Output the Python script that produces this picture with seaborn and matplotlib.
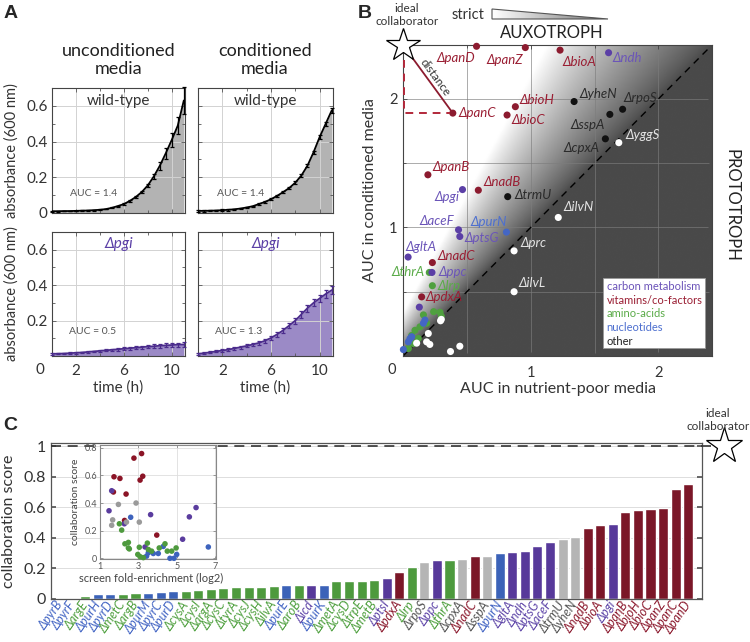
import numpy as np
import pandas as pd
import matplotlib
matplotlib.use("Agg")
import matplotlib.pyplot as plt
import seaborn as sns
from matplotlib.patches import Polygon, Rectangle

sns.set_theme(style="white")
plt.rcParams['font.family'] = ['Lato', 'DejaVu Sans']
plt.rcParams['axes.unicode_minus'] = False

# ---------------------------------------------------------------- data: panel A
time_h = [0.0, 0.5, 1.0, 1.5, 2.0, 2.5, 3.0, 3.5, 4.0, 4.5, 5.0, 5.5,
          6.0, 6.5, 7.0, 7.5, 8.0, 8.5, 9.0, 9.5, 10.0, 10.5, 11.0]
wt_uncond = [0.010, 0.010, 0.011, 0.011, 0.012, 0.013, 0.014, 0.016, 0.018, 0.022, 0.029, 0.039,
             0.050, 0.068, 0.090, 0.118, 0.155, 0.205, 0.265, 0.335, 0.410, 0.490, 0.630]
wt_uncond_err = [0.002, 0.002, 0.002, 0.002, 0.002, 0.002, 0.002, 0.002, 0.002, 0.002, 0.003, 0.003,
                 0.004, 0.004, 0.005, 0.007, 0.010, 0.014, 0.022, 0.030, 0.040, 0.045, 0.075]
wt_cond = [0.012, 0.012, 0.013, 0.014, 0.016, 0.018, 0.021, 0.025, 0.031, 0.038, 0.050, 0.062,
           0.077, 0.096, 0.117, 0.140, 0.170, 0.210, 0.265, 0.340, 0.425, 0.500, 0.575]
wt_cond_err = [0.004, 0.004, 0.004, 0.004, 0.004, 0.004, 0.004, 0.004, 0.004, 0.004, 0.004, 0.005,
               0.005, 0.005, 0.006, 0.006, 0.007, 0.008, 0.009, 0.010, 0.011, 0.012, 0.014]
pgi_uncond = [0.012, 0.013, 0.014, 0.016, 0.018, 0.020, 0.023, 0.026, 0.029, 0.032, 0.035, 0.038,
              0.041, 0.044, 0.047, 0.050, 0.053, 0.055, 0.058, 0.060, 0.062, 0.064, 0.065]
pgi_uncond_err = [0.004, 0.004, 0.004, 0.004, 0.004, 0.005, 0.005, 0.005, 0.006, 0.006, 0.007, 0.007,
                  0.008, 0.008, 0.009, 0.009, 0.010, 0.010, 0.011, 0.011, 0.012, 0.012, 0.013]
pgi_cond = [0.012, 0.016, 0.021, 0.026, 0.031, 0.036, 0.043, 0.050, 0.057, 0.065, 0.074, 0.086,
            0.102, 0.122, 0.145, 0.172, 0.200, 0.235, 0.270, 0.300, 0.325, 0.350, 0.372]
pgi_cond_err = [0.004, 0.005, 0.005, 0.006, 0.006, 0.007, 0.007, 0.008, 0.009, 0.010, 0.011, 0.012,
                0.013, 0.014, 0.015, 0.016, 0.017, 0.018, 0.019, 0.020, 0.021, 0.022, 0.024]
auc_text = ["AUC = 1.4", "AUC = 1.4", "AUC = 0.5", "AUC = 1.3"]
a_col_titles = ["unconditioned\nmedia", "conditioned\nmedia"]
a_row_titles = ["wild-type", "\u0394pgi"]

# ---------------------------------------------------------------- data: panel B
b_genes = ['panD', 'panZ', 'bioA', 'ndh', 'panC', 'bioH', 'bioC', 'yheN', 'rpoS', 'sspA',
           'cpxA', 'yggS', 'panB', 'pgi', 'nadB', 'trmU', 'ilvN', 'aceF', 'ptsG', 'purN',
           'prc', 'gltA', 'nadC', 'thrA', 'ppc', 'lrp', 'ilvL', 'pdxA']
b_x = [0.576, 0.958, 1.23, 1.61, 0.39, 0.88, 0.815, 1.34, 1.72, 1.62,
       1.585, 1.69, 0.195, 0.466, 0.59, 0.82, 1.216, 0.435, 0.445, 0.81,
       0.87, 0.04, 0.23, 0.206, 0.227, 0.23, 0.87, 0.146]
b_y = [2.41, 2.40, 2.38, 2.36, 1.89, 1.94, 1.875, 1.98, 1.92, 1.88,
       1.69, 1.66, 1.41, 1.295, 1.29, 1.24, 1.078, 0.982, 0.93, 0.964,
       0.818, 0.77, 0.727, 0.65, 0.65, 0.547, 0.50, 0.46]
b_cat = ['vitamins', 'vitamins', 'vitamins', 'carbon', 'vitamins', 'vitamins', 'vitamins', 'other', 'other', 'other',
         'other', 'other', 'vitamins', 'carbon', 'vitamins', 'other', 'other', 'carbon', 'carbon', 'nucleotides',
         'other', 'carbon', 'vitamins', 'amino', 'carbon', 'amino', 'other', 'vitamins']
# unlabelled points near the origin
u_x = [0.128, 0.24, 0.29, 0.30, 0.16, 0.185, 0.133, 0.094, 0.068, 0.12, 0.055, 0.08, 0.042,
       0.16, 0.172, 0.068, 0.042, 0.055, 0.003,
       0.294, 0.30, 0.198, 0.107, 0.185, 0.21, 0.445, 0.372]
u_y = [0.38, 0.345, 0.34, 0.31, 0.32, 0.255, 0.227, 0.20, 0.16, 0.137, 0.12, 0.097, 0.058,
       0.255, 0.28, 0.15, 0.11, 0.135, 0.05,
       0.274, 0.285, 0.175, 0.10, 0.11, 0.09, 0.076, 0.035]
u_cat = ['carbon', 'amino', 'amino', 'amino', 'amino', 'amino', 'amino', 'amino', 'amino', 'amino',
         'amino', 'amino', 'amino',
         'nucleotides', 'nucleotides', 'nucleotides', 'nucleotides', 'nucleotides', 'nucleotides',
         'other', 'other', 'other', 'other', 'other', 'other', 'other', 'other']
legend_names = ['carbon metabolism', 'vitamins/co-factors', 'amino-acids', 'nucleotides', 'other']

# ---------------------------------------------------------------- data: panel C
c_genes = ['pyrB', 'pyrF', 'argE', 'purH', 'pyrD', 'metC', 'argB', 'purM', 'pyrC', 'purD',
           'cysA', 'cysI', 'argA', 'cysC', 'tyrA', 'cysJ', 'cysH', 'ilvA', 'purE', 'aroB',
           'icd', 'purK', 'metA', 'cysD', 'trpE', 'metB', 'ptsI', 'pdxA', 'lrp', 'rpoS',
           'ppc', 'thrA', 'cpxA', 'nadC', 'sspA', 'purN', 'gltA', 'ndh', 'ptsG', 'aceF',
           'trmU', 'yheN', 'nadB', 'bioA', 'pgi', 'panB', 'bioH', 'bioC', 'panZ', 'panC', 'panD']
c_scores = [0.002, 0.003, 0.017, 0.030, 0.033, 0.035, 0.037, 0.040, 0.044, 0.050,
            0.055, 0.059, 0.068, 0.074, 0.079, 0.081, 0.081, 0.085, 0.090, 0.090,
            0.090, 0.094, 0.116, 0.118, 0.118, 0.125, 0.140, 0.175, 0.208, 0.245,
            0.252, 0.252, 0.263, 0.280, 0.280, 0.300, 0.306, 0.317, 0.348, 0.370,
            0.392, 0.403, 0.466, 0.481, 0.490, 0.569, 0.580, 0.586, 0.595, 0.722, 0.755]
c_cat = ['nucleotides', 'nucleotides', 'amino', 'nucleotides', 'nucleotides', 'amino', 'amino', 'nucleotides', 'nucleotides', 'nucleotides',
         'amino', 'amino', 'amino', 'amino', 'amino', 'amino', 'amino', 'amino', 'nucleotides', 'amino',
         'carbon', 'nucleotides', 'amino', 'amino', 'amino', 'amino', 'carbon', 'vitamins', 'amino', 'other',
         'carbon', 'amino', 'other', 'vitamins', 'other', 'nucleotides', 'carbon', 'carbon', 'carbon', 'carbon',
         'other', 'other', 'vitamins', 'vitamins', 'carbon', 'vitamins', 'vitamins', 'vitamins', 'vitamins', 'vitamins', 'vitamins']
# inset: collaboration score vs screen fold-enrichment
in_x = [2.77, 3.17, 1.73, 2.04, 3.23, 3.09, 1.70, 2.36, 2.28, 3.96,
        1.61, 1.47, 2.27, 3.64, 6.01, 5.66, 5.31, 3.35,
        1.96, 2.88, 1.66, 1.61, 2.38, 3.05,
        2.60, 4.30, 3.52, 3.78, 4.04, 3.43, 4.65, 4.86, 5.00, 6.65,
        2.01, 2.13, 2.30, 2.48, 2.48, 2.53, 2.97, 3.05, 3.09, 3.47, 3.52, 3.69, 4.09, 4.39, 4.51, 4.74, 4.97, 3.26]
in_y = [0.725, 0.758, 0.59, 0.578, 0.594, 0.566, 0.48, 0.465, 0.274, 0.168,
        0.489, 0.344, 0.25, 0.316, 0.367, 0.30, 0.138, 0.082,
        0.39, 0.40, 0.278, 0.239, 0.262, 0.262,
        0.297, 0.086, 0.04, 0.035, 0.035, 0.016, 0.0, 0.0, 0.028, 0.082,
        0.25, 0.204, 0.105, 0.115, 0.075, 0.068, 0.028, 0.08, 0.012, 0.11, 0.064, 0.052, 0.075, 0.105, 0.052, 0.052, 0.075, 0.005]
in_cat = ['vitamins', 'vitamins', 'vitamins', 'vitamins', 'vitamins', 'vitamins', 'vitamins', 'vitamins', 'vitamins', 'vitamins',
          'carbon', 'carbon', 'carbon', 'carbon', 'carbon', 'carbon', 'carbon', 'carbon',
          'other', 'other', 'other', 'other', 'other', 'other',
          'nucleotides', 'nucleotides', 'nucleotides', 'nucleotides', 'nucleotides', 'nucleotides', 'nucleotides', 'nucleotides', 'nucleotides', 'nucleotides',
          'amino', 'amino', 'amino', 'amino', 'amino', 'amino', 'amino', 'amino', 'amino', 'amino', 'amino', 'amino', 'amino', 'amino', 'amino', 'amino', 'amino', 'amino']

# ---------------------------------------------------------------- styles
PT_COL = {'carbon': '#5b3fa6', 'vitamins': '#8c1b2f', 'amino': '#4fa03f',
          'nucleotides': '#4466c4', 'other_dark': '#111111', 'other_light': '#ffffff'}
B_LAB_COL = {'carbon': '#6b55b8', 'vitamins': '#9a1e33', 'amino': '#5aab48',
             'nucleotides': '#4d6fcf', 'other_dark': '#2a2a2a', 'other_light': '#e4e4e4'}
BAR_COL = {'carbon': '#57399a', 'vitamins': '#7b1728', 'amino': '#4d9a3d',
           'nucleotides': '#3b62b8', 'other': '#b5b5b5'}
C_LAB_COL = {'carbon': '#5f46a8', 'vitamins': '#8c1b2f', 'amino': '#4fa03f',
             'nucleotides': '#4466c4', 'other': '#555555'}
IN_COL = {'carbon': '#5a3c9e', 'vitamins': '#8b1426', 'amino': '#4e9a3e',
          'nucleotides': '#3d63bd', 'other': '#9a9a9a'}
LEG_COL = ['#6a52b8', '#9a1e33', '#5aab48', '#4d6fcf', '#222222']
INK = '#333333'

# label placement for panel B: (dx px, dy px, ha, va)
B_LAYOUT = {
    'panD': (-1, -6, 'right', 'top'), 'panZ': (-2, -6, 'right', 'top'),
    'bioA': (2, -6, 'left', 'top'), 'ndh': (4, 1, 'left', 'top'),
    'panC': (6, 0, 'left', 'center'), 'bioH': (4, 1, 'left', 'bottom'),
    'bioC': (4, 1, 'left', 'top'), 'yheN': (5, 2, 'left', 'bottom'),
    'rpoS': (1, 5, 'left', 'bottom'), 'sspA': (-5, -5, 'right', 'top'),
    'cpxA': (-6, -3, 'right', 'top'), 'yggS': (7, 2, 'left', 'bottom'),
    'panB': (5, 2, 'left', 'bottom'), 'pgi': (-3, -1, 'right', 'top'),
    'nadB': (5, 2, 'left', 'bottom'), 'trmU': (7, 2, 'left', 'center'),
    'ilvN': (5, 4, 'left', 'bottom'), 'aceF': (-4, 3, 'right', 'bottom'),
    'ptsG': (5, -2, 'left', 'center'), 'purN': (0, 4, 'right', 'bottom'),
    'prc': (6, 2, 'left', 'bottom'), 'gltA': (-3, 4, 'left', 'bottom'),
    'nadC': (5, 1, 'left', 'bottom'), 'thrA': (-5, 0, 'right', 'center'),
    'ppc': (6, 0, 'left', 'center'), 'lrp': (5, 0, 'left', 'center'),
    'ilvL': (4, 3, 'left', 'bottom'), 'pdxA': (4, 0, 'left', 'center'),
}

W, H = 750, 642
fig = plt.figure(figsize=(W / 100, H / 100), dpi=100)
fig.patch.set_facecolor('white')


def rect(l, t, w, h):
    return [l / W, 1 - (t + h) / H, w / W, h / H]


def ftext(x, y, s, **kw):
    fig.text(x / W, 1 - y / H, s, **kw)


# ================================================================ panel A
a_specs = [
    (rect(52, 88, 133, 125), wt_uncond, wt_uncond_err, 'black', '#b3b3b3', 0, True, False, (0.135, 0.152)),
    (rect(198, 88, 135, 125), wt_cond, wt_cond_err, 'black', '#b3b3b3', 0, False, False, (0.139, 0.152)),
    (rect(52, 232, 133, 124), pgi_uncond, pgi_uncond_err, '#4b2c8c', '#9b8ac6', 1, True, True, (0.125, 0.196)),
    (rect(198, 232, 135, 124), pgi_cond, pgi_cond_err, '#4b2c8c', '#9b8ac6', 1, False, True, (0.126, 0.196)),
]
for i, (r, vals, err, lc, fc, row, left, bottom, aucpos) in enumerate(a_specs):
    ax = fig.add_axes(r)
    ax.set_axisbelow('line')
    ax.fill_between(time_h, 0, vals, color=fc, lw=0, zorder=1)
    sns.lineplot(x=time_h, y=vals, color=lc, lw=1.3, ax=ax, zorder=3)
    ax.errorbar(time_h, vals, yerr=err, fmt='none', ecolor=lc, elinewidth=0.9,
                capsize=1.6, capthick=0.9, zorder=3, clip_on=False)
    ax.set_xlim(0, 11.1)
    ax.set_ylim(0, 0.7)
    ax.set_xticks([2, 6, 10])
    ax.set_xticks([4, 8], minor=True)
    ax.set_yticks([0, 0.2, 0.4, 0.6])
    ax.set_yticks([0.1, 0.3, 0.5], minor=True)
    ax.grid(True, which='major', color='#d2d2d2', lw=0.7)
    ax.tick_params(which='both', direction='in', top=True, right=True, bottom=True, left=True,
                   length=3, width=0.6, color='#555555', labelsize=11, labelcolor=INK, pad=3)
    ax.tick_params(which='minor', length=2)
    for s in ax.spines.values():
        s.set_color('#444444')
        s.set_linewidth(0.8)
    if left:
        ax.set_yticklabels(['0', '0.2', '0.4', '0.6'] if row == 0 else ['', '0.2', '0.4', '0.6'])
        ax.set_ylabel('absorbance (600 nm)', fontsize=10.5, color=INK)
        ax.yaxis.set_label_coords(-0.25, 0.5)
    else:
        ax.set_yticklabels([])
        ax.set_ylabel('')
    if bottom:
        ax.set_xticklabels(['2', '6', '10'])
        ax.set_xlabel('time (h)', fontsize=11, color=INK)
        ax.xaxis.set_label_coords(0.5, -0.2)
        ax.tick_params(axis='x', pad=6)
    else:
        ax.set_xticklabels([])
        ax.set_xlabel('')
    if left and bottom:
        ax.text(-0.09, -0.113, '0', transform=ax.transAxes, ha='center', va='center',
                fontsize=11, color=INK)
    if row == 0:
        ax.text(0.5, 0.9, a_row_titles[0], transform=ax.transAxes, ha='center', va='center',
                fontsize=11, color=INK)
    else:
        ax.text(0.5, 0.9, a_row_titles[1], transform=ax.transAxes, ha='center', va='center',
                fontsize=11, color='#5b3fa6', style='italic')
    ax.text(aucpos[0], aucpos[1], auc_text[i], transform=ax.transAxes, ha='left', va='center',
            fontsize=7.5, color='#555555')

ftext(118.5, 60, a_col_titles[0], ha='center', va='center', fontsize=13, linespacing=1.1, color='#222222')
ftext(265, 60, a_col_titles[1], ha='center', va='center', fontsize=13, linespacing=1.1, color='#222222')

# ================================================================ panel B
LIM = 2.42
axB = fig.add_axes(rect(403, 45, 309, 311))
gx = np.linspace(0, LIM, 500)
GX, GY = np.meshgrid(gx, gx)
ratio = (GY + 0.4) / (GX + 0.4)
shade = 0.29 + 0.71 * np.clip((ratio - 1) / 0.85, 0, 1) ** 0.75
axB.imshow(shade, extent=[0, LIM, 0, LIM], origin='lower', cmap='gray', vmin=0, vmax=1,
           aspect='auto', zorder=0, interpolation='bilinear')
axB.set_xlim(0, LIM)
axB.set_ylim(0, LIM)
axB.set_xticks([0, 1, 2])
axB.set_xticks([0.5, 1.5], minor=True)
axB.set_yticks([0, 1, 2])
axB.set_yticks([0.5, 1.5], minor=True)
axB.grid(True, which='both', color='#7d7d7d', lw=0.6, alpha=0.75)
axB.plot([0, LIM], [0, LIM], color='black', lw=1.0, ls=(0, (5, 4)), zorder=1)

dfB = pd.DataFrame({'x': b_x + u_x, 'y': b_y + u_y, 'cat': b_cat + u_cat})
dfB['fill'] = [c if c != 'other' else ('other_dark' if y > x else 'other_light')
               for c, x, y in zip(dfB['cat'], dfB['x'], dfB['y'])]
sns.scatterplot(data=dfB, x='x', y='y', hue='fill', palette=PT_COL, s=26, edgecolor='none',
                legend=False, ax=axB, zorder=3, clip_on=False)
for g, x, y, c in zip(b_genes, b_x, b_y, b_cat):
    dx, dy, ha, va = B_LAYOUT[g]
    key = c if c != 'other' else ('other_dark' if y > x else 'other_light')
    axB.annotate('\u0394' + g, (x, y), xytext=(dx, dy), textcoords='offset pixels', ha=ha, va=va,
                 fontsize=9.5, style='italic', color=B_LAB_COL[key], zorder=5)

# distance to the ideal collaborator
axB.plot([0, 0.39], [LIM, 1.89], color='#8c1b2f', lw=1.3, zorder=4)
axB.plot([0.006, 0.006, 0.37], [2.3, 1.89, 1.89], color='#b2283a', lw=1.4,
         ls=(0, (4, 3)), zorder=4, clip_on=False)
axB.plot([0], [LIM], marker='*', ms=25, mfc='white', mec='black', mew=0.9, clip_on=False, zorder=10)
axB.text(0.25, 2.17, 'distance', rotation=-54, rotation_mode='anchor', ha='center', va='center',
         fontsize=8.5, color=INK, zorder=5)

# legend box
axB.add_patch(Rectangle((0.647, 0.026), 0.33, 0.225, transform=axB.transAxes, fc='white',
                        ec='#999999', lw=0.6, zorder=6))
for name, col, yy in zip(legend_names, LEG_COL, [0.223, 0.18, 0.136, 0.092, 0.048]):
    axB.text(0.659, yy, name, transform=axB.transAxes, ha='left', va='center', fontsize=8,
             color=col, zorder=7)

axB.tick_params(which='both', direction='in', top=True, right=True, bottom=True, left=True,
                length=3, width=0.6, color='#444444', labelsize=10.5, labelcolor=INK)
axB.tick_params(which='minor', length=2)
axB.tick_params(axis='x', pad=7)
axB.tick_params(axis='y', pad=4)
axB.set_xticklabels(['', '1', '2'])
axB.set_yticklabels(['', '1', '2'])
axB.text(-0.036, -0.045, '0', transform=axB.transAxes, ha='center', va='center', fontsize=10.5, color=INK)
for s in axB.spines.values():
    s.set_color('#444444')
    s.set_linewidth(0.8)
axB.set_xlabel('AUC in nutrient-poor media', fontsize=11.5, color=INK)
axB.xaxis.set_label_coords(0.5, -0.085)
axB.set_ylabel('AUC in conditioned media', fontsize=11.5, color=INK)
axB.yaxis.set_label_coords(-0.085, 0.535)

ftext(407, 15, 'ideal\ncollaborator', ha='center', va='center', fontsize=8.5, linespacing=1.25, color=INK)
ftext(468, 15, 'strict', ha='center', va='center', fontsize=10.5, color=INK)
ftext(552, 33, 'AUXOTROPH', ha='center', va='center', fontsize=12, color='#222222')
ftext(731, 205, 'PROTOTROPH', ha='center', va='center', fontsize=12, rotation=270, color='#222222')

# wedge next to "strict"
wax = fig.add_axes(rect(492, 9, 116, 10))
wax.set_xlim(0, 1)
wax.set_ylim(0, 1)
wax.axis('off')
grad = np.linspace(1.0, 0.45, 200)[None, :]
wim = wax.imshow(grad, extent=[0, 1, 0, 1], cmap='gray', vmin=0, vmax=1, aspect='auto')
tri = Polygon([(0, 1), (0, 0), (1, 0)], closed=True, fc='none', ec='#555555', lw=0.8,
              transform=wax.transData, clip_on=False)
wax.add_patch(tri)
wim.set_clip_path(tri)

# ================================================================ panel C
axC = fig.add_axes(rect(50.7, 443, 651.3, 156))
dfC = pd.DataFrame({'gene': c_genes, 'score': c_scores, 'cat': c_cat})
sns.barplot(data=dfC, x='gene', y='score', hue='cat', palette=BAR_COL, dodge=False, legend=False,
            saturation=1, width=0.8, ax=axC, order=c_genes, zorder=2)
axC.set_xlim(-0.75, 51.1)
axC.set_ylim(0, 1.02)
axC.set_xticks(range(len(c_genes)))
axC.set_xticklabels(['\u0394' + g for g in c_genes], rotation=55, ha='right', va='center',
                    rotation_mode='anchor', fontsize=9, style='italic')
for lab, c in zip(axC.get_xticklabels(), c_cat):
    lab.set_color(C_LAB_COL[c])
axC.set_xticks(list(range(4, 51, 5)), minor=True)
axC.set_yticks([0, 0.2, 0.4, 0.6, 0.8, 1.0])
axC.set_yticklabels(['0', '0.2', '0.4', '0.6', '0.8', '1'])
axC.grid(True, which='minor', axis='x', color='#dddddd', lw=0.7)
axC.grid(True, which='major', axis='y', color='#dddddd', lw=0.7)
axC.set_axisbelow(True)
axC.tick_params(axis='x', which='major', length=0, pad=2.5)
axC.tick_params(axis='x', which='minor', direction='in', length=3.5, top=True, bottom=True, color='#555555')
axC.tick_params(axis='y', direction='in', length=3.5, left=True, right=True, color='#555555',
                labelsize=11.5, labelcolor=INK)
for s in axC.spines.values():
    s.set_color('#555555')
    s.set_linewidth(0.9)
axC.set_xlabel('')
axC.set_ylabel('collaboration score', fontsize=11.5, color=INK)
axC.yaxis.set_label_coords(-0.053, 0.5)
axC.plot([-0.75, 52.2], [1, 1], color='#333333', lw=1.2, ls=(0, (6, 4)), clip_on=False, zorder=5)
axC.plot([52.85], [1.0], marker='*', ms=27, mfc='white', mec='black', mew=0.9, clip_on=False, zorder=10)
ftext(718, 420, 'ideal\ncollaborator', ha='center', va='center', fontsize=8.5, linespacing=1.25, color=INK)

# inset
axI = fig.add_axes(rect(100, 445, 116, 114))
axI.set_zorder(6)
axI.set_facecolor('white')
dfI = pd.DataFrame({'x': in_x, 'y': in_y, 'cat': in_cat})
sns.scatterplot(data=dfI, x='x', y='y', hue='cat', palette=IN_COL, s=16, edgecolor='none',
                legend=False, ax=axI, zorder=3, clip_on=False)
axI.set_xlim(1, 7.05)
axI.set_ylim(-0.005, 0.82)
axI.set_xticks([1, 3, 5, 7])
axI.set_yticks([0, 0.2, 0.4, 0.6, 0.8])
axI.set_yticklabels(['0', '0.2', '0.4', '0.6', '0.8'])
axI.grid(True, color='#dedede', lw=0.6)
axI.tick_params(direction='in', length=2, width=0.5, labelsize=6.5, labelcolor='#555555',
                color='#777777', top=True, right=True, bottom=True, left=True, pad=2)
for s in axI.spines.values():
    s.set_color('#888888')
    s.set_linewidth(0.8)
axI.set_xlabel('screen fold-enrichment (log2)', fontsize=8, color='#444444')
axI.xaxis.set_label_coords(0.44, -0.12)
axI.set_ylabel('collaboration score', fontsize=7.5, color='#444444')
axI.yaxis.set_label_coords(-0.17, 0.5)

# panel letters
ftext(11, 13, 'A', ha='center', va='center', fontsize=14, weight='bold', family='Liberation Sans')
ftext(365, 14, 'B', ha='center', va='center', fontsize=14, weight='bold', family='Liberation Sans')
ftext(10, 426, 'C', ha='center', va='center', fontsize=14, weight='bold', family='Liberation Sans')

fig.savefig('out.png', dpi=100)
